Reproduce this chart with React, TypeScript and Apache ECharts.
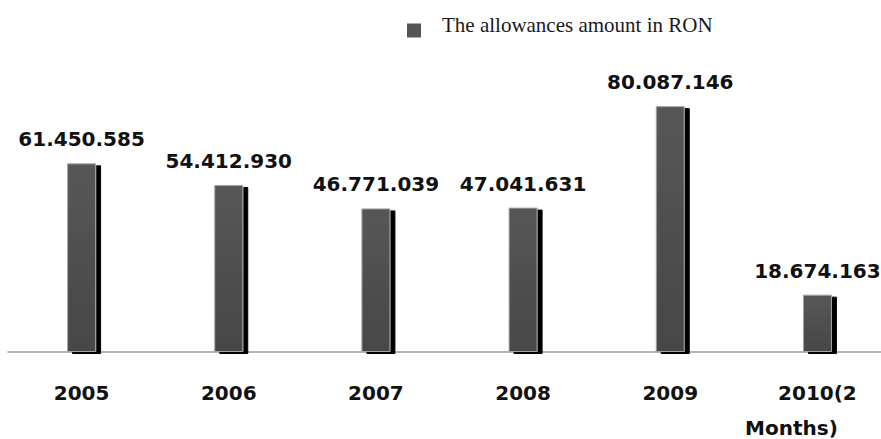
import React, { useEffect, useRef } from "react";
import * as echarts from "echarts";

const categories = ["2005", "2006", "2007", "2008", "2009", "2010(2 Months)"];
const allowances = [61450585, 54412930, 46771039, 47041631, 80087146, 18674163];
const seriesName = "The allowances amount in RON";

const fmtDots = (v: number) =>
  String(Math.round(v)).replace(/\B(?=(\d{3})+(?!\d))/g, ".");

export default function App() {
  const ref = useRef<HTMLDivElement>(null);
  useEffect(() => {
    if (!ref.current) return;
    const chart = echarts.init(ref.current, null, { renderer: "svg" });
    chart.setOption({
      animation: false,
      backgroundColor: "#ffffff",
      legend: {
        left: 402,
        top: 9,
        icon: "rect",
        itemWidth: 14,
        itemHeight: 14,
        data: [seriesName],
        formatter: (name: string) => `{t|${name}}`,
        itemStyle: { shadowBlur: 0, shadowColor: "transparent", shadowOffsetX: 0, shadowOffsetY: 0, borderWidth: 0, color: "#555555" },
        textStyle: {
          fontFamily: "Liberation Serif",
          fontSize: 21,
          color: "#1a1a1a",
          rich: {
            t: {
              fontFamily: "Liberation Serif",
              fontSize: 21,
              lineHeight: 21,
              color: "#1a1a1a",
              padding: [0, 0, 12, 16],
            },
          },
        },
      },
      grid: { left: 8, width: 883, top: 45, bottom: 87, containLabel: false },
      xAxis: {
        type: "category",
        data: categories,
        axisLine: { lineStyle: { color: "#9e9e9e", width: 1.5 } },
        axisTick: { show: false },
        axisLabel: {
          interval: 0,
          margin: 23,
          formatter: (v: string) => {
            const idx = v.indexOf(" ");
            if (idx > 0) return `{a|${v.slice(0, idx)}}\n{b|${v.slice(idx + 1)}}`;
            return `{a|${v}}`;
          },
          rich: {
            a: { fontFamily: "DejaVu Sans", fontWeight: "bold", fontSize: 20, color: "#111111", lineHeight: 35 },
            b: { fontFamily: "DejaVu Sans", fontWeight: "bold", fontSize: 20, color: "#111111", lineHeight: 35, padding: [0, 52, 0, 0] },
          },
        },
      },
      yAxis: {
        type: "value",
        min: 0,
        max: 100000000,
        show: false,
        splitLine: { show: false },
      },
      series: [
        {
          name: seriesName,
          type: "bar",
          data: allowances,
          barWidth: 29,
          itemStyle: {
            color: {
              type: "linear", x: 0, y: 0, x2: 0, y2: 1,
              colorStops: [
                { offset: 0, color: "#575757" },
                { offset: 1, color: "#474747" },
              ],
            },
            borderColor: "#a5a5a5",
            borderWidth: 1,
            shadowColor: "#000000",
            shadowBlur: 0,
            shadowOffsetX: 5,
            shadowOffsetY: 2,
          },
          label: {
            show: true,
            position: "top",
            distance: 14,
            formatter: (p: any) => fmtDots(p.value),
            fontFamily: "DejaVu Sans",
            fontWeight: "bold",
            fontSize: 20,
            color: "#111111",
          },
        },
      ],
    });
    return () => chart.dispose();
  }, []);
  return (
    <div style={{ position: "absolute", left: 0, top: 0, width: 881, height: 439, overflow: "hidden" }}>
      <div ref={ref} style={{ width: 900, height: 439 }} />
    </div>
  );
}
